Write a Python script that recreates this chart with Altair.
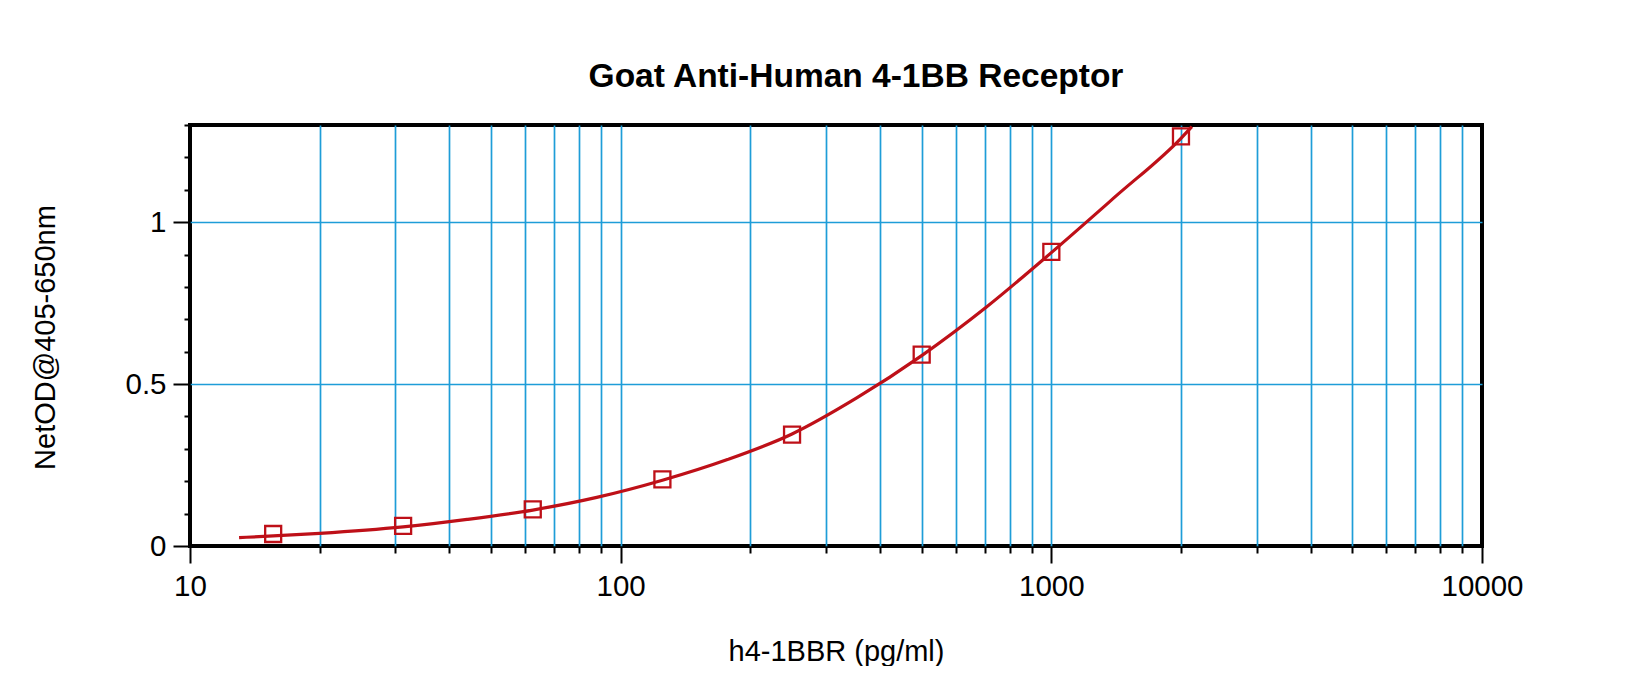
import altair as alt
import pandas as pd

# measured standards
conc = [15.6, 31.25, 62.5, 125, 250, 500, 1000, 2000]
od = [0.037, 0.062, 0.113, 0.206, 0.344, 0.591, 0.908, 1.265]

# fitted curve
curve_x = [13, 15.6, 20, 31.25, 44, 62.5, 88, 125, 177, 250, 354, 500, 707, 1000, 1414, 2000, 2120]
curve_y = [0.026, 0.031, 0.039, 0.059, 0.082, 0.111, 0.150, 0.203, 0.267, 0.346, 0.458,
           0.588, 0.738, 0.906, 1.081, 1.259, 1.295]

x_ticks = [10, 20, 30, 40, 50, 60, 70, 80, 90,
           100, 200, 300, 400, 500, 600, 700, 800, 900,
           1000, 2000, 3000, 4000, 5000, 6000, 7000, 8000, 9000, 10000]
y_ticks = [0, 0.1, 0.2, 0.3, 0.4, 0.5, 0.6, 0.7, 0.8, 0.9, 1, 1.1, 1.2, 1.3]

title = "Goat Anti-Human 4-1BB Receptor"
x_title = "h4-1BBR (pg/ml)"
y_title = "NetOD@405-650nm"

FONT = "Liberation Sans, Arial, sans-serif"
RED = "#BE1018"
GRID = "#1E9DD8"

pts = pd.DataFrame({"x": conc, "y": od})
crv = pd.DataFrame({"x": curve_x, "y": curve_y})

x_major = "datum.value == 10 || datum.value == 100 || datum.value == 1000 || datum.value == 10000"
y_major = "datum.value == 0 || datum.value == 0.5 || datum.value == 1"

xscale = alt.Scale(type="log", domain=[10, 10000], nice=False)
yscale = alt.Scale(domain=[0, 1.3], nice=False, zero=True)

xaxis = alt.Axis(
    values=x_ticks, tickCount=100, format="d",
    labelExpr=f"({x_major}) ? datum.label : ''",
    tickSize=alt.condition(x_major, alt.value(17), alt.value(7)),
    tickColor="black", tickWidth=2, domain=False,
    grid=True, gridColor=GRID, gridWidth=1.7,
    gridOpacity=alt.condition("datum.value == 10 || datum.value == 10000", alt.value(0), alt.value(1)),
    labelFont=FONT, labelFontSize=29.5, labelColor="black", labelPadding=9,
    labelFlush=False, labelOverlap=False,
    title=x_title, titleFont=FONT, titleFontSize=29, titleFontWeight="normal",
    titleColor="black", titleBaseline="alphabetic", titleY=114,
)
yaxis = alt.Axis(
    values=y_ticks, tickCount=100, format="~g",
    labelExpr=f"({y_major}) ? datum.label : ''",
    tickSize=alt.condition(y_major, alt.value(17), alt.value(6)),
    tickColor="black", tickWidth=2, domain=False,
    grid=True, gridColor=GRID, gridWidth=1.7,
    gridOpacity=alt.condition("datum.value == 0.5 || datum.value == 1", alt.value(1), alt.value(0)),
    labelFont=FONT, labelFontSize=29.5, labelColor="black", labelPadding=7,
    labelFlush=False, labelOverlap=False,
    title=y_title, titleFont=FONT, titleFontSize=29, titleFontWeight="normal",
    titleColor="black", titleAngle=-90, titleBaseline="alphabetic",
    titleX=-136, titleY=212,
)

line = alt.Chart(crv).mark_line(color=RED, strokeWidth=3.2, interpolate="monotone", clip=True).encode(
    x=alt.X("x:Q", scale=xscale, axis=xaxis),
    y=alt.Y("y:Q", scale=yscale, axis=yaxis),
)
marks = alt.Chart(pts).mark_point(shape="square", size=256, color=RED, strokeWidth=2.3, filled=False, opacity=1).encode(
    x=alt.X("x:Q", scale=xscale),
    y=alt.Y("y:Q", scale=yscale),
)

chart = alt.layer(line, marks).properties(
    width=1292, height=421,
    title=alt.TitleParams(title, font=FONT, fontSize=33.5, fontWeight="bold", color="black",
                          anchor="middle", baseline="alphabetic", offset=23, dx=20, dy=33),
    autosize=alt.AutoSizeParams(type="none"),
    padding={"left": 182, "top": 117, "right": 150, "bottom": 120},
    background="white",
).configure_view(stroke="black", strokeWidth=4)

chart.save("out.html", embed_options={"renderer": "svg", "actions": False})
